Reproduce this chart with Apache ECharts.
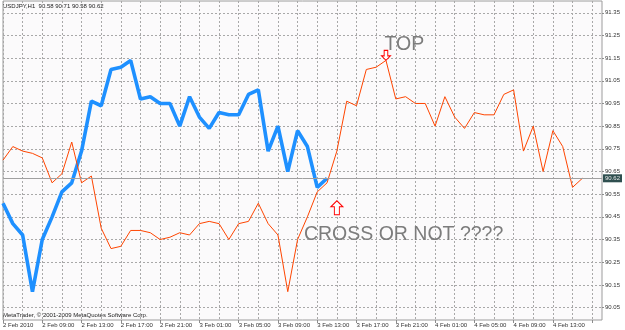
<!DOCTYPE html>
<html>
<head>
<meta charset="utf-8">
<script src="https://cdn.jsdelivr.net/npm/echarts@6/dist/echarts.min.js"></script>
<style>
html, body { margin: 0; padding: 0; background: #fff; }
#chart { width: 625px; height: 330px; }
</style>
</head>
<body>
<div id="chart"></div>
<script>
'use strict';

// hourly bars, 2 Feb 05:00 .. 4 Feb 18:00 (last two are the empty chart shift)
const hours = [
    '2 Feb 2010', '2 Feb 06:00', '2 Feb 07:00', '2 Feb 08:00', '2 Feb 09:00', '2 Feb 10:00', '2 Feb 11:00',
    '2 Feb 12:00', '2 Feb 13:00', '2 Feb 14:00', '2 Feb 15:00', '2 Feb 16:00', '2 Feb 17:00', '2 Feb 18:00',
    '2 Feb 19:00', '2 Feb 20:00', '2 Feb 21:00', '2 Feb 22:00', '2 Feb 23:00',
    '3 Feb 00:00', '3 Feb 01:00', '3 Feb 02:00', '3 Feb 03:00', '3 Feb 04:00', '3 Feb 05:00', '3 Feb 06:00',
    '3 Feb 07:00', '3 Feb 08:00', '3 Feb 09:00', '3 Feb 10:00', '3 Feb 11:00', '3 Feb 12:00', '3 Feb 13:00',
    '3 Feb 14:00', '3 Feb 15:00', '3 Feb 16:00', '3 Feb 17:00', '3 Feb 18:00', '3 Feb 19:00', '3 Feb 20:00',
    '3 Feb 21:00', '3 Feb 22:00', '3 Feb 23:00',
    '4 Feb 00:00', '4 Feb 01:00', '4 Feb 02:00', '4 Feb 03:00', '4 Feb 04:00', '4 Feb 05:00', '4 Feb 06:00',
    '4 Feb 07:00', '4 Feb 08:00', '4 Feb 09:00', '4 Feb 10:00', '4 Feb 11:00', '4 Feb 12:00', '4 Feb 13:00',
    '4 Feb 14:00', '4 Feb 15:00', '4 Feb 16:00', '4 Feb 17:00', '4 Feb 18:00'
];

// close line (red)
const closes = [
    90.70, 90.76, 90.74, 90.73, 90.71, 90.60, 90.64, 90.78, 90.60, 90.63,
    90.40, 90.31, 90.32, 90.39, 90.39, 90.38, 90.35, 90.36, 90.38, 90.37,
    90.42, 90.43, 90.42, 90.35, 90.42, 90.43, 90.51, 90.42, 90.37, 90.12,
    90.35, 90.45, 90.56, 90.60, 90.74, 90.96, 90.94, 91.10, 91.11, 91.14,
    90.97, 90.98, 90.95, 90.95, 90.85, 90.98, 90.89, 90.84, 90.91, 90.90,
    90.90, 90.99, 91.01, 90.74, 90.85, 90.65, 90.83, 90.76, 90.58, 90.62
];

// lagging line (blue, thick)
const lagging = [
    90.51, 90.42, 90.37, 90.12, 90.35, 90.45, 90.56, 90.60, 90.74, 90.96,
    90.94, 91.10, 91.11, 91.14, 90.97, 90.98, 90.95, 90.95, 90.85, 90.98,
    90.89, 90.84, 90.91, 90.90, 90.90, 90.99, 91.01, 90.74, 90.85, 90.65,
    90.83, 90.76, 90.58, 90.62
];

const priceTicks = [
    90.05, 90.15, 90.25, 90.35, 90.45, 90.55, 90.65,
    90.75, 90.85, 90.95, 91.05, 91.15, 91.25, 91.35
];

const symbolName = 'USDJPY,H1';
const lastBar = [90.58, 90.71, 90.58, 90.62]; // O H L C

const topIndex = 39;
const crossArrow = [34, 90.49];
const notes = [
    { text: 'TOP', coord: [39, 91.21], shift: -2 },
    { text: 'CROSS OR NOT ????', coord: [31, 90.37], shift: -4 }
];

const fontName = 'Liberation Sans, Arial, sans-serif';
const gridColor = '#a8a8a8';

const arrowDown = 'path://M3,0 L7,0 L7,6 L10,6 L5,11 L0,6 L3,6 Z';
const arrowUp = 'path://M6,0 L12,6 L8.5,6 L8.5,14 L3.5,14 L3.5,6 L0,6 Z';

const chart = echarts.init(document.getElementById('chart'));

chart.setOption({
    animation: false,
    backgroundColor: '#ffffff',
    textStyle: { fontFamily: fontName },
    grid: {
        left: 1, right: 23, top: 1, bottom: 10,
        show: true,
        backgroundColor: '#fbfafb',
        borderColor: '#9c9c9c',
        borderWidth: 1
    },
    xAxis: {
        type: 'category',
        data: hours,
        boundaryGap: false,
        axisLine: { show: false },
        axisTick: {
            show: true,
            length: 3,
            interval: (i) => i % 4 === 0,
            lineStyle: { color: '#8c8c8c' }
        },
        axisLabel: {
            interval: (i) => i % 4 === 0 && i < 60,
            align: 'left',
            margin: 2,
            fontSize: 6,
            color: '#333',
            fontFamily: fontName
        },
        splitLine: {
            show: true,
            interval: 1,
            lineStyle: { color: gridColor, type: [2, 2], width: 1 }
        }
    },
    yAxis: {
        type: 'value',
        position: 'right',
        min: 89.995,
        max: 91.402,
        axisLine: { show: false },
        axisTick: {
            show: true,
            length: 2,
            customValues: priceTicks,
            lineStyle: { color: '#8c8c8c' }
        },
        axisLabel: {
            customValues: priceTicks,
            margin: 3,
            fontSize: 6,
            color: '#333',
            fontFamily: fontName,
            formatter: (v) => v.toFixed(2)
        },
        splitLine: {
            show: true,
            lineStyle: { color: gridColor, type: [2, 2], width: 1 }
        }
    },
    graphic: [
        {
            type: 'text', left: 3, top: 3,
            style: {
                text: symbolName + '  ' + lastBar.map((v) => v.toFixed(2)).join(' '),
                font: '6px ' + fontName, fill: '#222'
            }
        },
        {
            type: 'text', left: 3, top: 312,
            style: {
                text: 'MetaTrader, \u00a9 2001-2009 MetaQuotes Software Corp.',
                font: '6px ' + fontName, fill: '#222'
            }
        }
    ],
    series: [
        {
            name: 'lagging',
            type: 'line',
            data: lagging,
            showSymbol: false,
            lineStyle: { color: '#1e90ff', width: 3.6 },
            itemStyle: { color: '#1e90ff' },
            z: 2
        },
        {
            name: 'close',
            type: 'line',
            data: closes,
            showSymbol: false,
            lineStyle: { color: '#ff4500', width: 1 },
            itemStyle: { color: '#ff4500' },
            z: 3,
            markLine: {
                silent: true,
                symbol: 'none',
                lineStyle: { color: '#a0a0a0', type: 'solid', width: 1 },
                label: {
                    position: 'end',
                    distance: 1,
                    formatter: lastBar[3].toFixed(2),
                    backgroundColor: '#2f4f4f',
                    color: '#e8e8e8',
                    fontSize: 6,
                    fontFamily: fontName,
                    padding: [1, 2, 1, 2]
                },
                data: [{ yAxis: lastBar[3] }]
            },
            markPoint: {
                silent: true,
                data: [
                    {
                        coord: [topIndex, closes[topIndex]],
                        symbol: arrowDown,
                        symbolSize: [9, 10],
                        symbolOffset: [0, -5],
                        itemStyle: { color: '#ffffff', borderColor: '#ff0000', borderWidth: 1 },
                        label: { show: false }
                    },
                    {
                        coord: crossArrow,
                        symbol: arrowUp,
                        symbolSize: [12, 14],
                        itemStyle: { color: '#ffffff', borderColor: '#ff0000', borderWidth: 1 },
                        label: { show: false }
                    }
                ].concat(notes.map((n) => ({
                    coord: n.coord,
                    symbol: 'circle',
                    symbolSize: 1,
                    itemStyle: { color: 'rgba(0,0,0,0)' },
                    label: {
                        show: true,
                        position: 'right',
                        distance: 0,
                        offset: [n.shift, 0],
                        formatter: n.text,
                        fontSize: 19.5,
                        fontFamily: fontName,
                        color: '#7c7c7c'
                    }
                })))
            }
        }
    ]
});
</script>
</body>
</html>
